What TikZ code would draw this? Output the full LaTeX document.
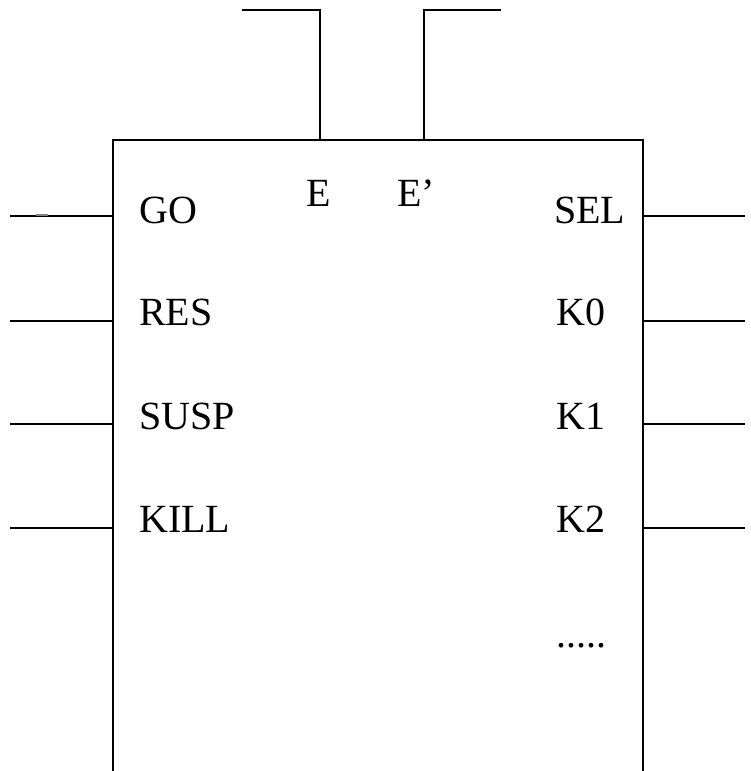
\documentclass[tikz,border=0pt]{standalone}
\usepackage{fontspec}
\setmainfont{Liberation Serif}
\begin{document}
\begin{tikzpicture}[x=0.75pt,y=-0.75pt,
  wire/.style={line width=1pt,black},
  lbl/.style={anchor=base west,inner sep=0pt,font=\fontsize{30}{35}\selectfont}]
\useasboundingbox (0,0) rectangle (750,771);
% box (open at bottom)
\coordinate (bl) at (113,771);
\coordinate (tl) at (113,140);
\coordinate (tr) at (643,140);
\coordinate (br) at (643,771);
\draw[wire] (bl) -- (tl) -- (tr) -- (br);
% top wires
\coordinate (e1) at (320,140);
\coordinate (e2) at (424,140);
\coordinate (e1a) at (320,10);
\coordinate (e1b) at (242,10);
\coordinate (e2a) at (424,10);
\coordinate (e2b) at (501,10);
\draw[wire] (e1) -- (e1a) -- (e1b);
\draw[wire] (e2) -- (e2a) -- (e2b);
% left wires
\foreach \n/\y in {go/216,res/321,susp/424,kill/528}{
  \coordinate (l\n) at (113,\y);
  \coordinate (l\n x) at (10,\y);
  \draw[wire] (l\n) -- (l\n x);
}
\foreach \n/\y in {sel/216,k0/321,k1/424,k2/528}{
  \coordinate (r\n) at (643,\y);
  \coordinate (r\n x) at (745,\y);
  \draw[wire] (r\n) -- (r\n x);
}
\coordinate (m1) at (36,215);
\coordinate (m2) at (48,215);
\draw[line width=0.9pt,gray] (m1) -- (m2);
% labels
\node[lbl] (tgo) at (139,223) {GO};
\node[lbl] (tres) at (139,325) {RES};
\node[lbl] (tsusp) at (139,429) {SUSP};
\node[lbl] (tkill) at (139,532) {KILL};
\node[lbl] (te) at (306,206) {E};
\node[lbl] (tep) at (397,206) {E'};
\node[lbl] (tsel) at (554,223) {SEL};
\node[lbl] (tk0) at (556,325) {K0};
\node[lbl] (tk1) at (556,429) {K1};
\node[lbl] (tk2) at (556,532) {K2};
\node[lbl] (tdots) at (556,647) {.....};
\end{tikzpicture}
\end{document}
